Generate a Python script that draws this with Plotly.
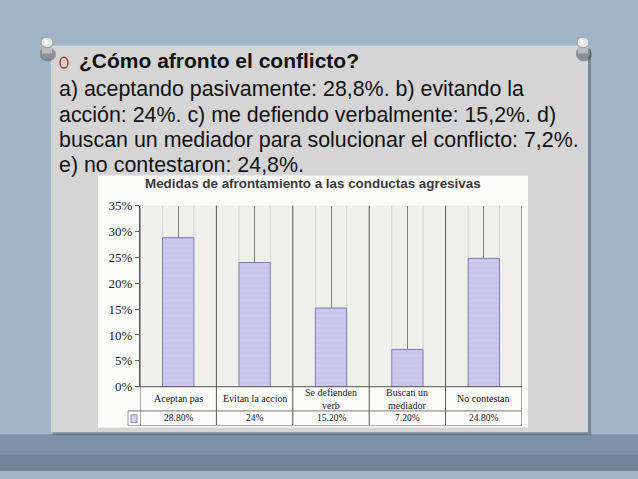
import plotly.graph_objects as go

W, H = 638, 479

# ---------------- data ----------------
slide_title = "¿Cómo afronto el conflicto?"
body_lines = [
    "a) aceptando pasivamente: 28,8%. b) evitando la",
    "acción: 24%. c) me defiendo verbalmente: 15,2%. d)",
    "buscan un mediador para solucionar el conflicto: 7,2%.",
    "e) no contestaron: 24,8%.",
]
chart_title = "Medidas de afrontamiento a las conductas agresivas"
categories = ["Aceptan pas", "Evitan la accion", "Se defienden verb", "Buscan un mediador", "No contestan"]
category_labels = ["Aceptan pas", "Evitan la accion", "Se defienden<br>verb", "Buscan un<br>mediador", "No contestan"]
values = [28.8, 24, 15.2, 7.2, 24.8]
value_labels = ["28.80%", "24%", "15.20%", "7.20%", "24.80%"]
y_ticks = [0, 5, 10, 15, 20, 25, 30, 35]
y_tick_labels = ["0%", "5%", "10%", "15%", "20%", "25%", "30%", "35%"]


def X(p):
    return p / W


def Y(p):
    return 1 - p / H


SERIF = "Liberation Serif"
SANS = "Liberation Sans"

fig = go.Figure()
fig.add_trace(go.Bar(
    x=list(range(len(categories))),
    y=values,
    width=0.41,
    marker=dict(
        color="#c9c5eb",
        line=dict(color="#817db0", width=1),
        pattern=dict(shape="-", fgcolor="#b6b2dc", bgcolor="#cbc7ed", size=5, solidity=0.12),
    ),
    hovertext=categories,
    showlegend=False,
))

shapes = []
# background bands
shapes.append(dict(type="rect", xref="paper", yref="paper", x0=0, x1=1, y0=Y(479), y1=Y(441),
                   fillcolor="#7d93a7", line_width=0, layer="below"))
shapes.append(dict(type="rect", xref="paper", yref="paper", x0=0, x1=1, y0=Y(479), y1=Y(462),
                   fillcolor="#6f8599", line_width=0, layer="below"))
# panel shadow
shapes.append(dict(type="rect", xref="paper", yref="paper", x0=X(53), x1=X(591), y0=Y(442), y1=Y(43),
                   fillcolor="rgba(40,50,60,0.35)", line_width=0, layer="below"))
# panel
shapes.append(dict(type="rect", xref="paper", yref="paper", x0=X(51), x1=X(588), y0=Y(439), y1=Y(40),
                   fillcolor="#d5d5d5", line_width=0, layer="below"))
# chart white box
shapes.append(dict(type="rect", xref="paper", yref="paper", x0=X(98), x1=X(528), y0=Y(434), y1=Y(174),
                   fillcolor="#fbfbfa", line_width=0, layer="below"))
# plot area background
shapes.append(dict(type="rect", xref="paper", yref="paper", x0=X(140), x1=X(522), y0=Y(392), y1=Y(205),
                   fillcolor="#efefeb", line_width=0, layer="below"))

# faint lines at bar edges
for i, v in enumerate(values):
    for dx in (-0.205, 0.205):
        shapes.append(dict(type="line", xref="x", yref="y", x0=i + dx, x1=i + dx, y0=v, y1=35,
                           line=dict(color="#d2d2d0", width=1), layer="below"))

# column dividers through plot and table
for k in range(len(categories) + 1):
    shapes.append(dict(type="line", xref="x", yref="paper", x0=k - 0.5, x1=k - 0.5,
                       y0=Y(432), y1=Y(205), line=dict(color="#555555", width=1)))
# baseline (0%) and table rows
shapes.append(dict(type="line", xref="paper", yref="paper", x0=X(136), x1=X(522), y0=Y(392), y1=Y(392),
                   line=dict(color="#555555", width=1)))
shapes.append(dict(type="line", xref="paper", yref="paper", x0=X(128), x1=X(522), y0=Y(417), y1=Y(417),
                   line=dict(color="#777777", width=1)))
shapes.append(dict(type="line", xref="paper", yref="paper", x0=X(128), x1=X(522), y0=Y(432), y1=Y(432),
                   line=dict(color="#aaaaaa", width=1)))
shapes.append(dict(type="line", xref="paper", yref="paper", x0=X(128), x1=X(128), y0=Y(432), y1=Y(417),
                   line=dict(color="#999999", width=1)))
# legend key
shapes.append(dict(type="rect", xref="paper", yref="paper", x0=X(131), x1=X(137), y0=Y(429), y1=Y(421),
                   fillcolor="#d8d5f0", line=dict(color="#8d89b9", width=1)))

# bullet
shapes.append(dict(type="circle", xref="paper", yref="paper", x0=X(60), x1=X(68), y0=Y(63), y1=Y(52),
                   line=dict(color="#b8362b", width=1.5)))


# pins
def pin(cx, cy):
    out = []
    out.append(dict(type="circle", xref="paper", yref="paper", x0=X(cx - 7), x1=X(cx + 9), y0=Y(cy + 16), y1=Y(cy + 2),
                    fillcolor="rgba(50,60,70,0.45)", line_width=0))
    out.append(dict(type="circle", xref="paper", yref="paper", x0=X(cx - 7), x1=X(cx + 7), y0=Y(cy + 14), y1=Y(cy + 1),
                    fillcolor="#8c8f93", line_width=0))
    out.append(dict(type="rect", xref="paper", yref="paper", x0=X(cx - 5), x1=X(cx + 5), y0=Y(cy + 8), y1=Y(cy - 4),
                    fillcolor="#b9bcc0", line_width=0))
    out.append(dict(type="circle", xref="paper", yref="paper", x0=X(cx - 6), x1=X(cx + 6), y0=Y(cy + 2), y1=Y(cy - 9),
                    fillcolor="#e4e6e8", line=dict(color="#9a9da1", width=1)))
    out.append(dict(type="circle", xref="paper", yref="paper", x0=X(cx - 3), x1=X(cx + 1), y0=Y(cy - 1), y1=Y(cy - 6),
                    fillcolor="#ffffff", line_width=0))
    return out


shapes += pin(47, 40)
shapes += pin(583, 40)

annotations = []
annotations.append(dict(text="<b>" + slide_title + "</b>", xref="paper", yref="paper", x=X(77), y=Y(55),
                        xanchor="left", yanchor="middle", showarrow=False,
                        font=dict(family=SANS, size=21, color="#111111")))
for i, line in enumerate(body_lines):
    annotations.append(dict(text=line, xref="paper", yref="paper", x=X(57), y=Y(85 + 26 * i),
                            xanchor="left", yanchor="middle", showarrow=False,
                            font=dict(family=SANS, size=21.4, color="#111111")))
annotations.append(dict(text="<b>" + chart_title + "</b>", xref="paper", yref="paper", x=X(313), y=Y(182),
                        xanchor="center", yanchor="middle", showarrow=False,
                        font=dict(family=SANS, size=13.4, color="#3a3a3a")))
for i, (lab, val) in enumerate(zip(category_labels, value_labels)):
    annotations.append(dict(text=lab, xref="x", yref="paper", x=i, y=Y(404.5),
                            xanchor="center", yanchor="middle", showarrow=False,
                            font=dict(family=SERIF, size=10, color="#222222")))
    annotations.append(dict(text=val, xref="x", yref="paper", x=i, y=Y(424.5),
                            xanchor="center", yanchor="middle", showarrow=False,
                            font=dict(family=SERIF, size=9.5, color="#222222")))

fig.update_layout(
    width=W, height=H,
    margin=dict(l=0, r=0, t=0, b=0),
    paper_bgcolor="#a0b6c8",
    plot_bgcolor="rgba(0,0,0,0)",
    shapes=shapes,
    annotations=annotations,
    xaxis=dict(domain=[X(140), X(522)], range=[-0.5, 4.5], showticklabels=False,
               tickvals=list(range(len(categories))), showgrid=True, gridcolor="#808080", gridwidth=1,
               zeroline=False, showline=False, fixedrange=True),
    yaxis=dict(domain=[Y(392), Y(205)], range=[0, 35], tickvals=y_ticks, ticktext=y_tick_labels,
               ticks="outside", ticklen=4, tickcolor="#666666", showgrid=False, zeroline=False,
               showline=True, linecolor="#555555", linewidth=1,
               tickfont=dict(family=SERIF, size=13, color="#222222"), fixedrange=True),
)

fig.write_html("out.html", config={"displayModeBar": False},
               post_script="document.body.style.margin='0';document.body.style.padding='0';")
